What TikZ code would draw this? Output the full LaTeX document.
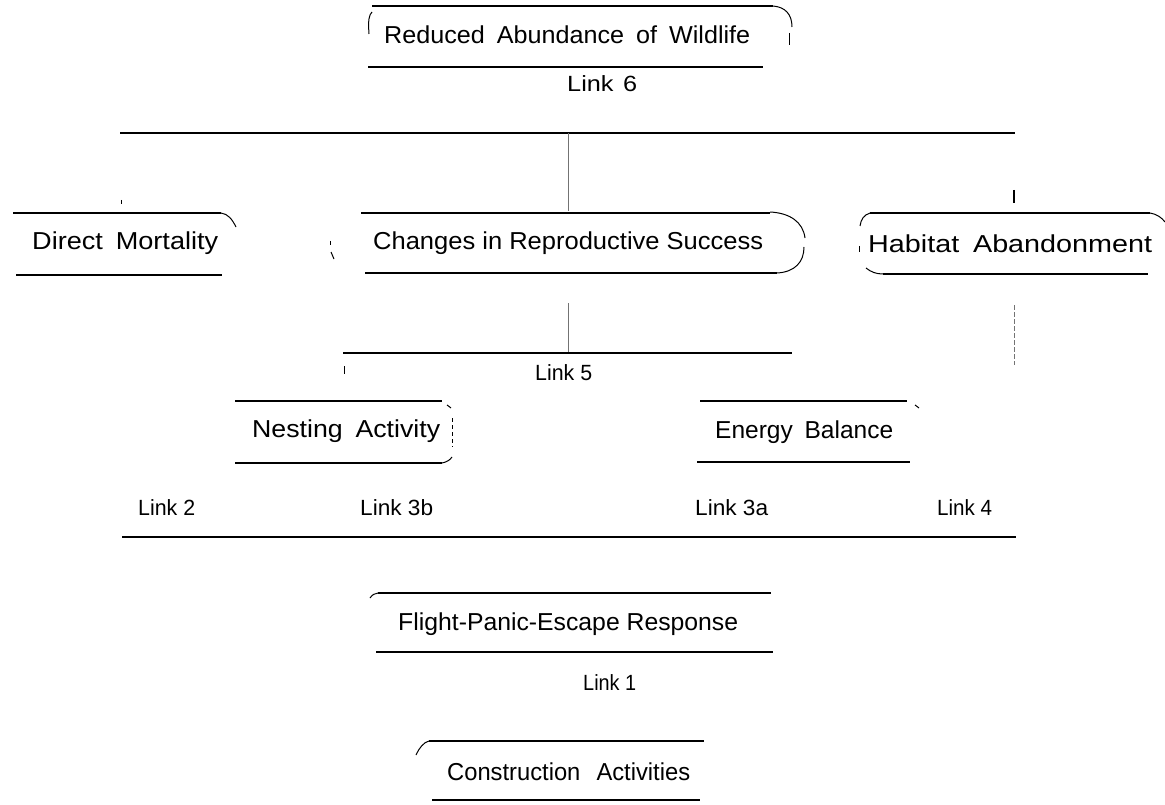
\documentclass[tikz,border=0pt]{standalone}
\usepackage{fontspec}
\setmainfont{Liberation Sans}
\usepackage{graphicx}
\newcommand{\fitw}[2]{\resizebox{#1pt}{\height}{#2}}
\newcommand{\wsp}{\hspace{0.2em}}
\tikzset{
  lbl/.style={anchor=base west, inner sep=0pt, font=\fontsize{24.5}{29}\selectfont},
  lnk/.style={anchor=base west, inner sep=0pt, font=\fontsize{22}{26}\selectfont},
  rule/.style={line width=2pt, line cap=butt},
  thinrule/.style={line width=1.1pt},
  conn/.style={line width=1pt, draw=black!55},
  frag/.style={line width=1pt},
}
\begin{document}
\begin{tikzpicture}[x=1pt,y=-1pt]
\useasboundingbox (0,0) rectangle (1165,805);
% text nodes
\node[lbl] (rab) at (384,44) {\fitw{366}{Reduced\wsp{} Abundance\wsp{} of\wsp{} Wildlife}};
\node[lnk] (l6) at (567,92) {\fitw{70}{Link\hspace{0.1em} 6}};
\node[lbl] (dm) at (32,250) {\fitw{186}{Direct\wsp{} Mortality}};
\node[lbl] (crs) at (373,249) {\fitw{390}{Changes in Reproductive Success}};
\node[lbl] (ha) at (868,252) {\fitw{284}{Habitat\wsp{} Abandonment}};
\node[lnk] (l5) at (535,380) {\fitw{57}{Link 5}};
\node[lbl] (na) at (252,437) {\fitw{188}{Nesting\wsp{} Activity}};
\node[lbl] (eb) at (715,438) {\fitw{178}{Energy\wsp{} Balance}};
\node[lnk] (l2) at (138,515) {\fitw{57}{Link 2}};
\node[lnk] (l3b) at (360,515) {\fitw{73}{Link 3b}};
\node[lnk] (l3a) at (695,515) {\fitw{73}{Link 3a}};
\node[lnk] (l4) at (937,515) {\fitw{55}{Link 4}};
\node[lbl] (fpe) at (398,630) {\fitw{340}{Flight-Panic-Escape Response}};
\node[lnk] (l1) at (583,690) {\fitw{53}{Link 1}};
\node[lbl] (ca) at (447,780) {\fitw{243}{Construction\wsp{}\wsp{} Activities}};
% connector coordinates
\coordinate (bus6) at (568,133);
\coordinate (crsTop) at (568,211);
\coordinate (crsBot) at (568,303);
\coordinate (bus5) at (568,353);
\coordinate (haBot) at (1014,305);
\coordinate (haLow) at (1014,365);
% top box
\draw[rule] (372,6) -- (773,6);
\draw[frag] (773,6) .. controls (785,7) and (792,14) .. (792,27);
\draw[frag] (789,33) -- (789,45);
\draw[frag] (372,12) .. controls (369,15) and (368,20) .. (369,34);
\draw[rule] (368,67) -- (763,67);
% link 6 bus
\draw[rule] (120,133) -- (1015,133);
\draw[conn] (bus6) -- (crsTop);
% direct mortality
\draw[frag] (121,200) -- (121,204);
\draw[rule] (13,213) -- (221,213);
\draw[frag] (221,213) .. controls (228,214) and (232,219) .. (236,227);
\draw[rule] (16,275) -- (222,275);
% changes
\draw[frag] (330,241) -- (330,245);
\draw[frag] (331,252) -- (334,259);
\draw[rule] (361,213) -- (770,213);
\draw[frag] (770,212) .. controls (790,213) and (803,222) .. (805,238);
\draw[frag] (804,247) .. controls (804,262) and (795,272) .. (777,273);
\draw[rule] (365,273) -- (777,273);
% habitat
\draw[rule] (1014,190) -- (1014,203);
\draw[rule] (870,213) -- (1150,213);
\draw[frag] (1150,213) .. controls (1157,214) and (1162,218) .. (1165,222);
\draw[frag] (870,213) .. controls (864,215) and (861,219) .. (860,226);
\draw[frag] (859,246) -- (859,252);
\draw[frag] (866,268) .. controls (871,272) and (876,274) .. (883,274);
\draw[rule] (883,274) -- (1148,274);
\draw[conn, dash pattern=on 5pt off 2pt] (haBot) -- (haLow);
% link 5
\draw[conn] (crsBot) -- (bus5);
\draw[rule] (343,353) -- (792,353);
\draw[frag] (344,366) -- (344,374);
% nesting
\draw[rule] (235,401) -- (442,401);
\draw[frag] (447,405) -- (451,408);
\draw[frag, dash pattern=on 4pt off 3pt] (452,418) -- (452,447);
\draw[rule] (235,463) -- (442,463);
\draw[frag] (442,463) .. controls (447,462) and (450,460) .. (452,457);
% energy
\draw[rule] (700,401) -- (907,401);
\draw[frag] (915,405) -- (919,408);
\draw[rule] (697,462) -- (910,462);
% links bus
\draw[rule] (122,537) -- (1016,537);
% flight
\draw[rule] (378,593) -- (771,593);
\draw[frag] (370,598) .. controls (372,595) and (375,593) .. (378,593);
\draw[thinrule] (376,652) -- (773,652);
% construction
\draw[rule] (429,741) -- (704,741);
\draw[frag] (416,755) .. controls (419,748) and (424,742) .. (429,741);
\draw[rule] (432,800) -- (700,800);
\end{tikzpicture}
\end{document}
